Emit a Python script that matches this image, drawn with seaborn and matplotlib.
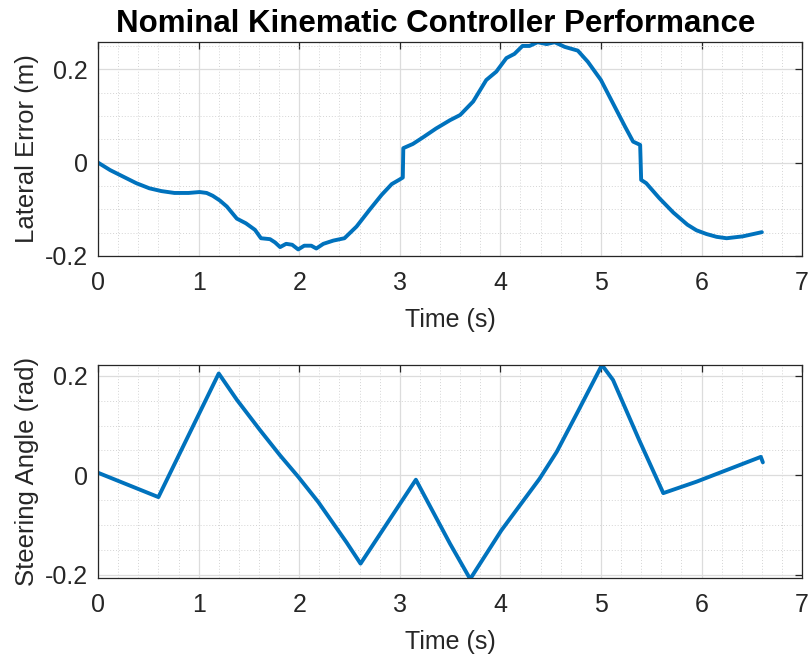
import numpy as np
import pandas as pd
import matplotlib
matplotlib.use("Agg")
import matplotlib.pyplot as plt
from matplotlib.ticker import MultipleLocator
import seaborn as sns

# Lateral tracking error over time
err_t = [0.00, 0.12, 0.25, 0.38, 0.51, 0.63, 0.76, 0.90, 1.01, 1.08, 1.14, 1.21,
         1.28, 1.38, 1.47, 1.56, 1.62, 1.71,
         1.76, 1.81, 1.87, 1.93, 1.99, 2.05, 2.12, 2.17, 2.24, 2.34, 2.45, 2.57,
         2.70, 2.82, 2.92, 3.00, 3.03, 3.035, 3.13, 3.23, 3.36, 3.50, 3.60, 3.73,
         3.86, 3.96, 4.06, 4.14, 4.22, 4.29, 4.37, 4.46, 4.54, 4.64, 4.77, 4.87,
         5.00, 5.12, 5.24, 5.32, 5.39, 5.40, 5.45, 5.58, 5.72, 5.86, 5.95, 6.05,
         6.15, 6.25, 6.41, 6.60]
err_y = [0.000, -0.016, -0.030, -0.044, -0.055, -0.061, -0.065, -0.065, -0.063,
         -0.065, -0.071, -0.081, -0.094, -0.120, -0.130,
         -0.144, -0.162, -0.164, -0.171, -0.181, -0.174, -0.176, -0.186, -0.178,
         -0.178, -0.184, -0.174, -0.167, -0.162, -0.137, -0.101, -0.069, -0.046,
         -0.036, -0.032, 0.031, 0.040, 0.054, 0.073, 0.091, 0.102, 0.131, 0.177,
         0.195, 0.224, 0.233, 0.250, 0.250, 0.258, 0.254, 0.258, 0.248, 0.240,
         0.216, 0.177, 0.127, 0.077, 0.045, 0.038, -0.037, -0.044, -0.076, -0.107,
         -0.133, -0.145, -0.153, -0.159, -0.162, -0.158, -0.149]

# Steering command over time
steer_t = [0.00, 0.60, 1.20, 1.38, 1.61, 1.81, 1.99, 2.19, 2.47, 2.61, 3.16,
           3.50, 3.70, 4.01, 4.39, 4.56, 4.77, 5.01, 5.12, 5.38, 5.62, 5.95,
           6.59, 6.61]
steer_y = [0.005, -0.044, 0.205, 0.152, 0.091, 0.040, -0.003, -0.054, -0.135,
           -0.178, -0.009, -0.138, -0.209, -0.111, -0.007, 0.047, 0.128, 0.222,
           0.192, 0.071, -0.036, -0.013, 0.037, 0.026]

x_ticks = [0, 1, 2, 3, 4, 5, 6, 7]
err_yticks = [-0.2, 0, 0.2]
steer_yticks = [-0.2, 0, 0.2]

sns.set_theme(style="white")
plt.rcParams["font.family"] = ["Liberation Sans", "DejaVu Sans"]

line_color = "#0072BD"
axis_color = "#262626"

fig = plt.figure(figsize=(8.11, 6.57), dpi=100)
ax1 = fig.add_axes([0.1209, 0.6104, 0.8681, 0.3257])
ax2 = fig.add_axes([0.1209, 0.1202, 0.8681, 0.3242])

df_err = pd.DataFrame({"t": err_t, "e": err_y})
df_steer = pd.DataFrame({"t": steer_t, "d": steer_y})

sns.lineplot(data=df_err, x="t", y="e", ax=ax1, color=line_color,
             linewidth=2.8, sort=False, estimator=None)
sns.lineplot(data=df_steer, x="t", y="d", ax=ax2, color=line_color,
             linewidth=2.8, sort=False, estimator=None)


def style_axes(ax, ylim, yticks, ylabel):
    ax.set_xlim(0, 7)
    ax.set_ylim(*ylim)
    ax.set_xticks(x_ticks)
    ax.set_xticklabels([str(v) for v in x_ticks])
    ax.set_yticks(yticks)
    ax.set_yticklabels(["0" if v == 0 else f"{v:g}" for v in yticks])
    ax.xaxis.set_minor_locator(MultipleLocator(0.2))
    ax.yaxis.set_minor_locator(MultipleLocator(0.05))
    ax.grid(True, which="major", color="#dcdcdc", linewidth=0.9, linestyle="-")
    ax.grid(True, which="minor", color="#d4d4d4", linewidth=0.7, linestyle=(0, (1, 2)))
    ax.set_axisbelow(True)
    for s in ax.spines.values():
        s.set_visible(True)
        s.set_color(axis_color)
        s.set_linewidth(0.9)
    ax.tick_params(which="major", direction="in", length=5, width=0.9,
                   color=axis_color, top=True, right=True, labelsize=18,
                   labelcolor=axis_color)
    ax.tick_params(axis="x", which="major", pad=11)
    ax.tick_params(axis="y", which="major", pad=7.5)
    ax.tick_params(which="minor", length=0, top=True, right=True)
    ax.set_xlabel("Time (s)", fontsize=18, color=axis_color, labelpad=9)
    ax.set_ylabel(ylabel, fontsize=18.5, color=axis_color, labelpad=4)


style_axes(ax1, (-0.2, 0.2585), err_yticks, "Lateral Error (m)")
style_axes(ax2, (-0.207, 0.222), steer_yticks, "Steering Angle (rad)")

ax1.set_title("Nominal Kinematic Controller Performance", fontsize=22.5,
              fontweight="bold", color="black", pad=7, x=0.48)

fig.savefig("out.png", dpi=100)
